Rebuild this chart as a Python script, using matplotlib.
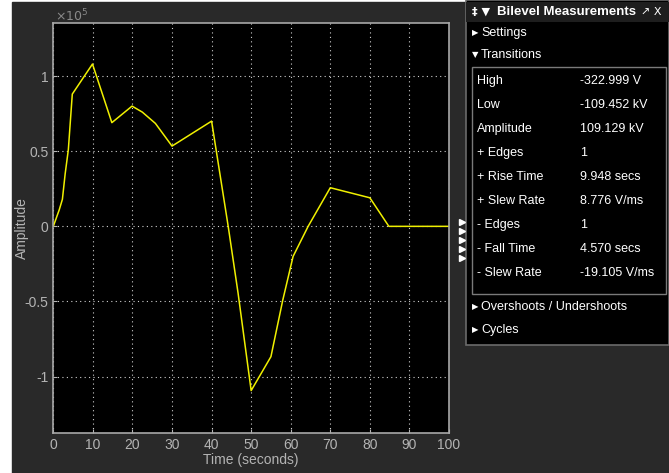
import numpy as np
import matplotlib
matplotlib.use("Agg")
import matplotlib.pyplot as plt
from matplotlib.patches import Rectangle

# signal (amplitude in units of 1e5)
t = [0, 1.5, 2.3, 3.0, 3.8, 4.8, 9.9, 14.8, 19.9, 22.5, 25.8, 30.0, 40.0,
     44.2, 46.7, 50.0, 55.0, 58.0, 60.6, 64.4, 70.0, 80.0, 84.8, 100.0]
amp = [0, 0.11, 0.18, 0.35, 0.51, 0.88, 1.08, 0.69, 0.80, 0.76, 0.685, 0.534, 0.70,
       0.0, -0.445, -1.093, -0.867, -0.49, -0.2, 0.0, 0.257, 0.19, 0.0, 0.0]

xticks = np.arange(0, 101, 10)
yticks = [-1, -0.5, 0, 0.5, 1]
ytick_labels = ['-1', '-0.5', '0', '0.5', '1']

rows = [('High', '-322.999 V'), ('Low', '-109.452 kV'), ('Amplitude', '109.129 kV'),
        ('+ Edges', '1'), ('+ Rise Time', '9.948 secs'), ('+ Slew Rate', '8.776 V/ms'),
        ('- Edges', '1'), ('- Fall Time', '4.570 secs'), ('- Slew Rate', '-19.105 V/ms')]

W, H = 669, 473
BG = '#292929'
TXT = '#b4b4b4'
plt.rcParams['font.family'] = ['Liberation Sans', 'DejaVu Sans']

fig = plt.figure(figsize=(W / 100, H / 100), dpi=100)
fig.patch.set_facecolor('white')

# overlay axes in pixel coords for the window chrome
bg = fig.add_axes([0, 0, 1, 1])
bg.set_xlim(0, W)
bg.set_ylim(H, 0)
bg.axis('off')
bg.add_patch(Rectangle((12, 2), W - 12, H - 2, color=BG, zorder=0))

# plot area
l, r, top, bot = 53.3, 449, 22.7, 433
ax = fig.add_axes([l / W, 1 - bot / H, (r - l) / W, (bot - top) / H])
ax.set_facecolor('black')
ax.plot(t, amp, color='#f0f000', lw=1.1)
ax.set_xlim(0, 100)
ax.set_ylim(-1.375, 1.355)
ax.set_xticks(xticks)
ax.set_yticks(yticks)
ax.set_yticklabels(ytick_labels)
ax.grid(True, color='#d0d0d0', linestyle=(0, (1, 3)), lw=0.8)
ax.tick_params(colors=TXT, labelsize=10, length=3, direction='in')
for s in ax.spines.values():
    s.set_color('#a8a8a8')
    s.set_linewidth(1.2)
ax.set_xlabel('Time (seconds)', color=TXT, fontsize=10, labelpad=1)
ax.set_ylabel('Amplitude', color=TXT, fontsize=10)
ax.yaxis.set_label_coords((29 - l) / (r - l), 0.5)
fig.text(55 / W, 1 - 16 / H, r'$\times 10^{5}$', color='#8a8a8a', fontsize=9, va='center')

# measurement panel
bg.add_patch(Rectangle((466, 0), W - 466, 345, facecolor='black', edgecolor='#6a6a6a', lw=1.2, zorder=1))
bg.add_patch(Rectangle((466, 2), W - 466, 20, facecolor='#1e1e1e', zorder=1))
bg.add_patch(Rectangle((471.5, 67), 194, 227, facecolor='black', edgecolor='#7a7a7a', lw=1, zorder=2))
bg.text(472, 12, '\u2021 \u25bc', color='white', fontsize=8, va='center', weight='bold', family=['DejaVu Sans'])
bg.text(497, 12, 'Bilevel Measurements', color='white', fontsize=9.5, va='center', weight='bold')
bg.text(641, 12, '\u2197 X', color='white', fontsize=8, va='center', family=['DejaVu Sans'])
bg.text(472, 33, '\u25b6', color='white', fontsize=6, va='center', family=['DejaVu Sans'])
bg.text(481, 33, 'Settings', color='white', fontsize=9, va='center')
bg.text(472, 55, '\u25bc', color='white', fontsize=6, va='center', family=['DejaVu Sans'])
bg.text(481, 55, 'Transitions', color='white', fontsize=9, va='center')
for i, (name, val) in enumerate(rows):
    y = 81 + 24 * i
    bg.text(477, y, name, color='white', fontsize=9, va='center', zorder=3)
    bg.text(580, y, val, color='white', fontsize=9, va='center', zorder=3)
bg.text(472, 307, '\u25b6', color='white', fontsize=6, va='center', family=['DejaVu Sans'])
bg.text(481, 307, 'Overshoots / Undershoots', color='white', fontsize=9, va='center')
bg.text(472, 330, '\u25b6', color='white', fontsize=6, va='center', family=['DejaVu Sans'])
bg.text(481, 330, 'Cycles', color='white', fontsize=9, va='center')

# little edge markers beside the panel
for k in range(5):
    bg.plot(462, 222 + 9 * k, marker='>', color='white', ms=4, zorder=3)

fig.savefig('out.png', dpi=100, facecolor=fig.get_facecolor())
